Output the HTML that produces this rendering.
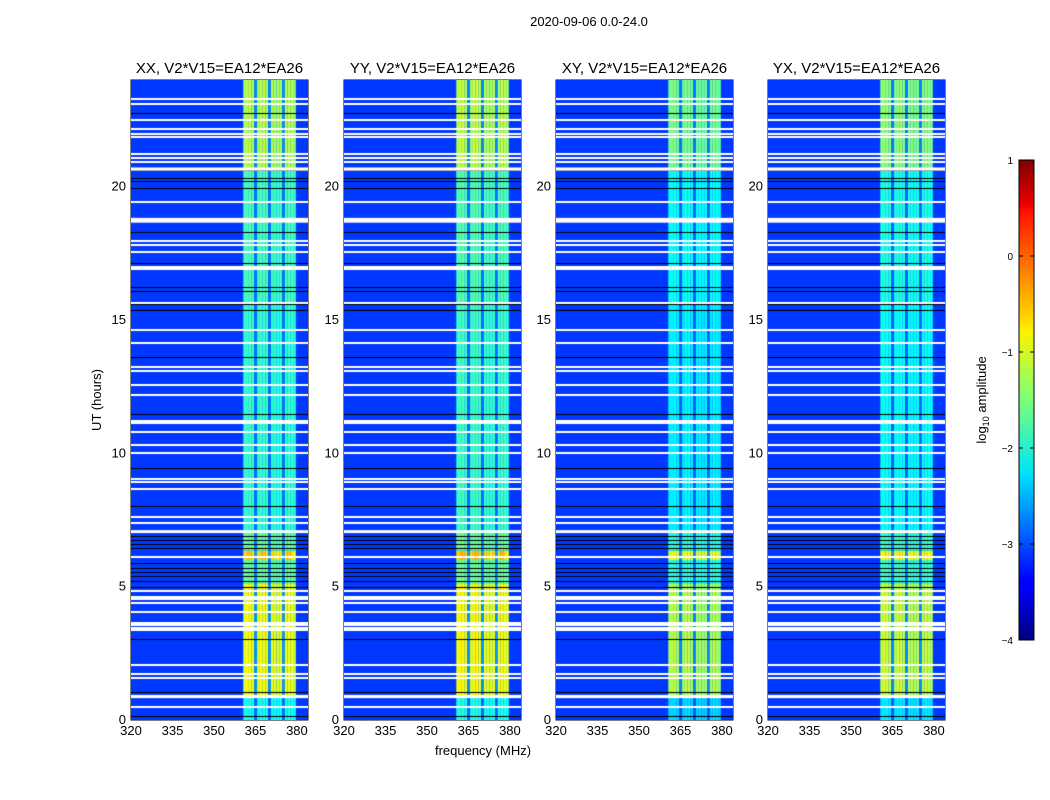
<!DOCTYPE html>
<html><head><meta charset="utf-8"><style>
html,body{margin:0;padding:0;background:#fff;width:1050px;height:800px;overflow:hidden;font-family:"Liberation Sans",sans-serif}
</style></head><body>
<svg id="fig" width="1050" height="800" xmlns="http://www.w3.org/2000/svg" style="position:absolute;left:0;top:0">
<text x="589" y="26" font-size="13" text-anchor="middle">2020-09-06 0.0-24.0</text>
<text x="483" y="755" font-size="13" text-anchor="middle">frequency (MHz)</text>
<text x="0" y="0" font-size="13" text-anchor="middle" transform="translate(101,400) rotate(-90)">UT (hours)</text>
<text x="0" y="0" font-size="13" text-anchor="middle" transform="translate(986,400) rotate(-90)">log<tspan font-size="9" dy="3">10</tspan><tspan dy="-3"> amplitude</tspan></text>
<defs><linearGradient id="jet" x1="0" y1="1" x2="0" y2="0">
<stop offset="0" stop-color="#00007f"/><stop offset="0.11" stop-color="#0000ff"/><stop offset="0.125" stop-color="#0000ff"/><stop offset="0.34" stop-color="#00dbff"/><stop offset="0.35" stop-color="#00e5f8"/><stop offset="0.5" stop-color="#7cff79"/><stop offset="0.64" stop-color="#f8f500"/><stop offset="0.65" stop-color="#ffea00"/><stop offset="0.89" stop-color="#ff1300"/><stop offset="0.91" stop-color="#e80000"/><stop offset="1" stop-color="#7f0000"/></linearGradient></defs>
<rect x="1019" y="160" width="15" height="480" fill="url(#jet)" stroke="#000" stroke-width="1"/>
<g id="cbticks"></g>
</svg>
<div id="panels"></div>
<script>
// ---- data ----
const panelTitles = ["XX, V2*V15=EA12*EA26","YY, V2*V15=EA12*EA26","XY, V2*V15=EA12*EA26","YX, V2*V15=EA12*EA26"];
const panelLeft = [131,344,556,768];
const panelOffset = [0, 0.05, -0.3, -0.2];
const xTicks = [320,335,350,365,380];
const yTicks = [0,5,10,15,20];
const cbTicks = [1,0,-1,-2,-3,-4];
const bandChannels = [361,362,363,364,365,366,367,368,369,370,371,372,373,374,375,376,377,378,379];
const bandProfile = [0.95,1,1,0.95,0.2,0.95,1,1,0.95,0.2,0.95,0.95,0.9,0.95,0.2,0.95,1,0.95,0.9];
const segStart = [0,0.9,5.1,6.0,6.35,7.1,15.6,20.6];
const segEnd   = [0.9,5.1,6.0,6.35,7.1,15.6,20.6,24];
const segLevel = [-2.0,-0.9,-1.6,-0.6,-1.6,-1.85,-1.75,-1.2];
const background = -3.1;
const whiteHours = [23.29,23.10,22.50,22.16,21.97,21.86,21.22,21.07,20.92,19.42,17.96,17.81,17.55,16.99,16.91,15.64,14.62,14.14,13.24,13.09,12.56,12.19,11.21,11.14,10.80,10.31,10.01,9.04,8.92,8.66,7.61,7.39,6.11,4.84,4.61,4.54,4.39,4.05,3.64,3.56,3.45,3.37,2.06,1.72,1.57,0.49];
const whiteBandStart = [20.6,18.65,7.01,0.82];
const whiteBandEnd   = [20.72,18.83,7.12,0.94];
const blackHours = [22.76,20.62,20.32,20.21,19.95,18.30,17.14,16.24,16.09,15.60,15.37,13.61,13.27,11.47,9.45,8.02,6.9,6.75,6.6,6.45,5.89,5.7,5.55,5.4,5.2,5.0,3.04,1.05,0.15];
// ---- scales ----
const W=177, H=640, TOP=80, X0=320, X1=384, Y0=0, Y1=24;
const xs = v => (v-X0)/(X1-X0)*W;
const ys = v => H-(v-Y0)/(Y1-Y0)*H;
function jet(v){let x=(v+4)/5;x=Math.max(0,Math.min(1,x));
 const c=t=>Math.round(255*Math.max(0,Math.min(1,1.5-Math.abs(t))));
 return `rgb(${c(4*x-3)},${c(4*x-2)},${c(4*x-1)})`;}
const svg=document.getElementById('fig'), NS="http://www.w3.org/2000/svg";
function mk(tag,attrs,parent){const e=document.createElementNS(NS,tag);for(const k in attrs)e.setAttribute(k,attrs[k]);(parent||svg).appendChild(e);return e;}
const host=document.getElementById('panels');
panelTitles.forEach((title,p)=>{
 const L=panelLeft[p];
 const cv=document.createElement('canvas');cv.width=W;cv.height=H;
 cv.style.cssText=`position:absolute;left:${L}px;top:${TOP}px`;
 
 
 host.appendChild(cv);
 const ctx=cv.getContext('2d');
 ctx.fillStyle=jet(background);ctx.fillRect(0,0,W,H);
 for(let s=0;s<segStart.length;s++){
  const lvl=segLevel[s]+panelOffset[p];
  for(let c=0;c<bandChannels.length;c++){
   const v=background+bandProfile[c]*(lvl-background);
   ctx.fillStyle=jet(v);
   const x=xs(bandChannels[c]-0.4),x2=xs(bandChannels[c]+0.6);
   ctx.fillRect(x,ys(segEnd[s]),x2-x,ys(segStart[s])-ys(segEnd[s]));
  }
 }
 ctx.fillStyle='#000';
 blackHours.forEach(h=>ctx.fillRect(0,Math.round(ys(h)),W,1));
 ctx.fillStyle='#fff';
 whiteHours.forEach(h=>ctx.fillRect(0,Math.round(ys(h))-1,W,2));
 whiteBandStart.forEach((s,i)=>ctx.fillRect(0,ys(whiteBandEnd[i]),W,ys(s)-ys(whiteBandEnd[i])));
 const g=mk('g',{transform:`translate(${L},${TOP})`});
 
 
 const fr=mk('rect',{x:0,y:0,width:W,height:H,fill:'none',stroke:'#000','stroke-width':1},g);
 
 
 const t=mk('text',{x:W/2,y:-7,'font-size':15,'text-anchor':'middle'},g);t.textContent=title;
 
 
 xTicks.forEach(v=>{const x=xs(v);
  mk('line',{x1:x,x2:x,y1:H,y2:H-4,stroke:'#000'},g);mk('line',{x1:x,x2:x,y1:0,y2:4,stroke:'#000'},g);
  const tx=mk('text',{x:x,y:H+15,'font-size':13,'text-anchor':'middle'},g);tx.textContent=v;
  
  });
 yTicks.forEach(v=>{const y=ys(v);
  mk('line',{x1:0,x2:4,y1:y,y2:y,stroke:'#000'},g);mk('line',{x1:W,x2:W-4,y1:y,y2:y,stroke:'#000'},g);
  const ty=mk('text',{x:-5,y:y+4,'font-size':13,'text-anchor':'end'},g);ty.textContent=v;
  
  });
});
const cg=document.getElementById('cbticks');
cbTicks.forEach(v=>{const y=160+(1-v)/5*480;
 mk('line',{x1:1019,x2:1023,y1:y,y2:y,stroke:'#000'},cg);mk('line',{x1:1034,x2:1030,y1:y,y2:y,stroke:'#000'},cg);
 const t=mk('text',{x:1013,y:y+4,'font-size':10,'text-anchor':'end'},cg);t.textContent=v<0?'\u2212'+(-v):v;
 
 });
</script>
</body></html>
